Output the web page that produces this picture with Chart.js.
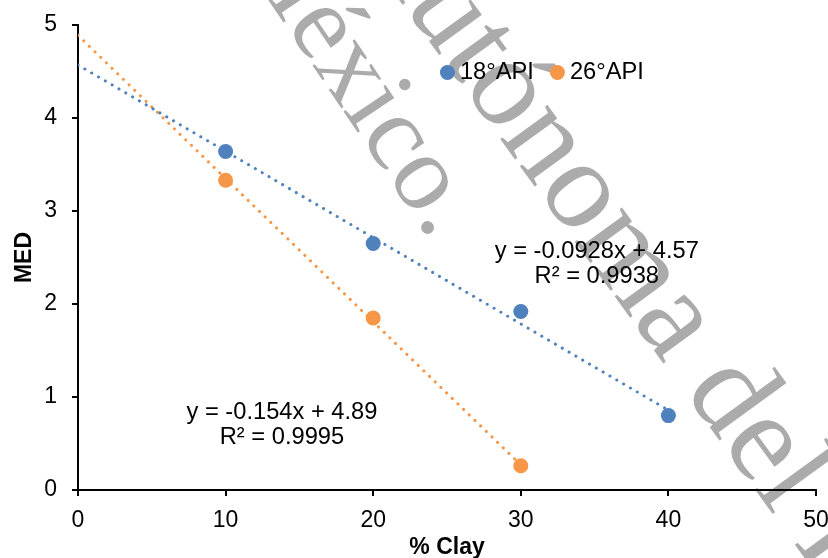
<!DOCTYPE html>
<html><head><meta charset="utf-8">
<script src="https://cdn.jsdelivr.net/npm/chart.js@4.4.0/dist/chart.umd.min.js"></script>
<style>html,body{margin:0;padding:0;background:#fff}canvas{display:block}</style>
</head><body>
<canvas id="c" width="828" height="558"></canvas>
<script>
// ---- data ----
const seriesNames = ['18°API', '26°API'];
const clay18 = [10, 20, 30, 40];
const med18 = [3.64, 2.65, 1.92, 0.80];
const clay26 = [10, 20, 30];
const med26 = [3.33, 1.85, 0.26];
const trendX18 = [0, 40];
const trendY18 = [4.57, 0.858];
const trendX26 = [0, 30];
const trendY26 = [4.89, 0.27];
const eqText18 = ['y = -0.0928x + 4.57', 'R² = 0.9938'];
const eqText26 = ['y = -0.154x + 4.89', 'R² = 0.9995'];
const eqAnchor18 = [35.15, 2.43];
const eqAnchor26 = [13.82, 0.70];
const legendAnchor = [25.03, 4.49];
const xTitle = '% Clay';
const yTitle = 'MED';
const watermark = 'Universidad Autónoma del Estado de México.';
const colors = ['#4F81BD', '#F79646'];

const FONT = "'Liberation Sans', Arial, sans-serif";
const pts = (xs, ys) => xs.map((x, i) => ({x, y: ys[i]}));

const watermarkPlugin = {
  id: 'wm',
  beforeDraw(chart) {
    const ctx = chart.ctx;
    ctx.save();
    ctx.fillStyle = '#fff';
    ctx.fillRect(0, 0, chart.width, chart.height);
    ctx.fillStyle = '#ABABAB';
    ctx.textBaseline = 'alphabetic';
    const place = (fs, deg, prefix, ch, cx, cy) => {
      ctx.font = fs + "px 'Liberation Serif', 'DejaVu Serif', serif";
      const ang = deg * Math.PI / 180;
      const d = [Math.cos(ang), Math.sin(ang)], u = [Math.sin(ang), -Math.cos(ang)];
      const w = ctx.measureText(prefix).width + ctx.measureText(ch).width / 2;
      const up = 0.225 * fs;
      const bx = cx - up * u[0], by = cy - up * u[1];
      const sx = bx - w * d[0], sy = by - w * d[1];
      ctx.save();
      ctx.translate(sx, sy);
      ctx.rotate(ang);
      ctx.fillText(watermark, 0, 0);
      ctx.restore();
    };
    place(108, 56, 'Universidad Autónoma del Estado de Méxic', 'o', 421, 183);
    place(127, 54, 'Universidad Autónoma d', 'e', 760, 448);
    ctx.restore();
  }
};

const labelsPlugin = {
  id: 'labels',
  afterDraw(chart) {
    const ctx = chart.ctx, xs = chart.scales.x, ys = chart.scales.y;
    ctx.save();
    ctx.font = '23.7px ' + FONT;
    ctx.fillStyle = '#000';
    ctx.textAlign = 'center';
    ctx.textBaseline = 'middle';
    const block = (lines, a) => {
      const cx = xs.getPixelForValue(a[0]), cy = ys.getPixelForValue(a[1]);
      const lh = 25.5;
      lines.forEach((t, i) => ctx.fillText(t, cx, cy + (i - (lines.length - 1) / 2) * lh));
    };
    block(eqText18, eqAnchor18);
    block(eqText26, eqAnchor26);
    // legend
    let lx = xs.getPixelForValue(legendAnchor[0]);
    const ly = ys.getPixelForValue(legendAnchor[1]);
    ctx.textAlign = 'left';
    seriesNames.forEach((name, i) => {
      ctx.fillStyle = colors[i];
      ctx.beginPath();
      ctx.arc(lx, ly, 7.5, 0, Math.PI * 2);
      ctx.fill();
      ctx.fillStyle = '#000';
      ctx.fillText(name, lx + 12.5, ly);
      lx += 12.5 + ctx.measureText(name).width + 23.5;
    });
    ctx.restore();
  }
};

new Chart(document.getElementById('c'), {
  type: 'scatter',
  data: {
    datasets: [
      {label: seriesNames[0], data: pts(clay18, med18), backgroundColor: colors[0], borderWidth: 0, pointRadius: 7.5, pointHoverRadius: 7.5, order: 2},
      {label: seriesNames[1], data: pts(clay26, med26), backgroundColor: colors[1], borderWidth: 0, pointRadius: 7.5, pointHoverRadius: 7.5, order: 2},
      {label: 'trend18', data: pts(trendX18, trendY18), showLine: true, borderColor: colors[0], borderWidth: 3, borderDash: [0.1, 7.8], borderCapStyle: 'round', pointRadius: 0, fill: false, order: 1},
      {label: 'trend26', data: pts(trendX26, trendY26), showLine: true, borderColor: colors[1], borderWidth: 3, borderDash: [0.1, 7.8], borderCapStyle: 'round', pointRadius: 0, fill: false, order: 1}
    ]
  },
  options: {
    responsive: false,
    animation: false,
    events: [],
    layout: {padding: {top: 25, right: 12, left: 0, bottom: 0}},
    plugins: {legend: {display: false}, tooltip: {enabled: false}},
    scales: {
      x: {
        type: 'linear', min: 0, max: 50,
        ticks: {stepSize: 10, color: '#000', font: {family: FONT, size: 23}, padding: 11},
        grid: {drawOnChartArea: false, drawTicks: true, tickLength: 6, color: '#000', lineWidth: 2},
        border: {color: '#000', width: 2},
        title: {display: true, text: xTitle, color: '#000', font: {family: FONT, size: 23, weight: 'bold'}, padding: {top: 0, bottom: -3}},
        afterFit(s) { s.height = 68; s.paddingLeft = 0; s.paddingRight = 0; }
      },
      y: {
        type: 'linear', min: 0, max: 5,
        ticks: {stepSize: 1, color: '#000', font: {family: FONT, size: 23}, padding: 15},
        grid: {drawOnChartArea: false, drawTicks: true, tickLength: 6, color: '#000', lineWidth: 2},
        border: {color: '#000', width: 2},
        title: {display: true, text: yTitle, color: '#000', font: {family: FONT, size: 23, weight: 'bold'}, padding: {top: 11, bottom: 0}},
        afterFit(s) { s.width = 78; s.paddingTop = 0; s.paddingBottom = 0; }
      }
    }
  },
  plugins: [watermarkPlugin, labelsPlugin]
});
</script>
</body></html>
